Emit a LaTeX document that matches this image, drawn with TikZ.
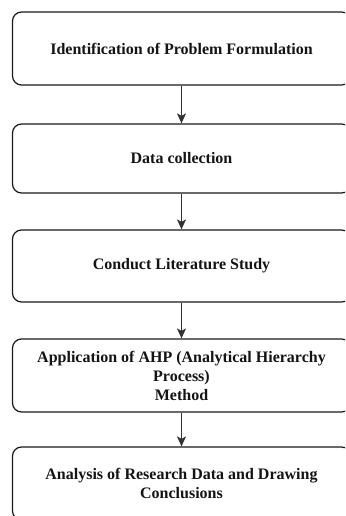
\documentclass[tikz,border=0pt]{standalone}
\usepackage{fontspec}
\setmainfont{Liberation Serif}
\usetikzlibrary{arrows.meta}
\tikzset{
  stepbox/.style={draw=black!90, line width=1.2pt, rounded corners=9pt,
    minimum width=338pt, inner sep=0pt, align=center,
    font=\fontsize{16}{19}\selectfont\bfseries, text=black!92},
  flow/.style={draw=black!80, line width=1.1pt, -{Stealth[length=10pt,width=9pt,inset=2.5pt]}}
}
\begin{document}
\begin{tikzpicture}[x=1pt,y=-1pt]
  \useasboundingbox (0,0) rectangle (345,516);
  \clip (0,0) rectangle (345,516);
  \fill[white] (0,0) rectangle (345,516);
  \node[stepbox, minimum height=73pt] (s1) at (181.5,48.5) {\raisebox{-1pt}{Identification of Problem Formulation}};
  \node[stepbox, minimum height=69pt] (s2) at (181.5,158.5) {Data collection};
  \node[stepbox, minimum height=72pt] (s3) at (181.5,266) {\raisebox{3pt}{Conduct Literature Study}};
  \node[stepbox, minimum height=73pt] (s4) at (181.5,375.5) {Application of AHP (Analytical Hierarchy\\Process)\\Method};
  \node[stepbox, minimum height=73pt] (s5) at (181.5,483.5) {Analysis of Research Data and Drawing\\Conclusions};
  \draw[flow] (s1) -- (s2);
  \draw[flow] (s2) -- (s3);
  \draw[flow] (s3) -- (s4);
  \draw[flow] (s4) -- (s5);
\end{tikzpicture}
\end{document}
